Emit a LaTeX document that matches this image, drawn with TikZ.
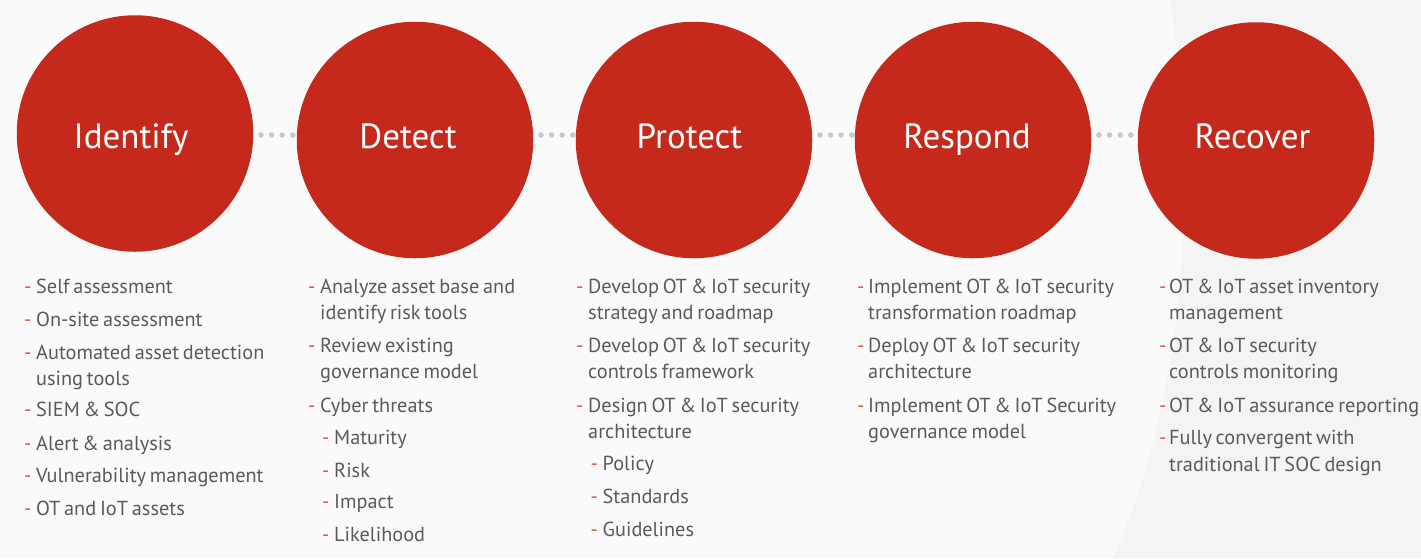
\documentclass[tikz,border=0pt]{standalone}
\usepackage{fontspec}
\setmainfont{PT Sans}[WordSpace=0.7]
\definecolor{bgl}{HTML}{FAFAFA}
\definecolor{bgr}{HTML}{F4F4F4}
\definecolor{circred}{HTML}{C4291C}
\definecolor{dashred}{HTML}{DC5044}
\definecolor{txtgray}{HTML}{5A5A5A}
\definecolor{dotgray}{HTML}{C8C8C8}
\newcommand\bul[2][12pt]{\parbox[t]{330pt}{\hangindent=#1\hangafter=1\makebox[#1][l]{\textcolor{dashred}{-}}#2}}
\tikzset{
  phase/.style={circle, fill=circred, minimum size=236.5pt, inner sep=0pt},
  ptitle/.style={anchor=base, text=white, font=\fontsize{35}{40}\selectfont, inner sep=0pt},
  item/.style={anchor=base west, inner sep=0pt, text=txtgray, font=\fontsize{20.3}{26.5}\selectfont},
  dotline/.style={draw=dotgray, line width=5.5pt, line cap=round, dash pattern=on 0pt off 10.6pt, shorten <=7.5pt, shorten >=2pt}
}
\begin{document}
\begin{tikzpicture}[x=1pt,y=-1pt]
\useasboundingbox (0,0) rectangle (1421,558);
\fill[bgl] (0,0) rectangle (1421,558);
\fill[bgr] (1170,0) .. controls (1200,180) and (1185,400) .. (1113,558) -- (1421,558) -- (1421,0) -- cycle;

% phases
\node[phase] (c1) at (135,133.5) {};
\node[phase] (c2) at (415,140) {};
\node[phase] (c3) at (694,140) {};
\node[phase] (c4) at (973,140) {};
\node[phase] (c5) at (1256,140.5) {};

\node[ptitle] (t1) at (131,148) {Identify};
\node[ptitle] (t2) at (408,148) {Detect};
\node[ptitle] (t3) at (689.5,148) {Protect};
\node[ptitle] (t4) at (967,148) {Respond};
\node[ptitle] (t5) at (1252.6,148) {Recover};

% dotted connectors
\coordinate (dy) at (0,135);
\draw[dotline] (c1.east |- dy) -- (c2.west |- dy);
\draw[dotline] (c2.east |- dy) -- (c3.west |- dy);
\draw[dotline] (c3.east |- dy) -- (c4.west |- dy);
\draw[dotline] (c4.east |- dy) -- (c5.west |- dy);

% Identify
\node[item] (i1) at (24,293) {\bul{Self assessment}};
\node[item] (i2) at (24,326.5) {\bul{On-site assessment}};
\node[item] (i3) at (24,359) {\bul{Automated asset detection\\using tools}};
\node[item] (i4) at (24,416.7) {\bul{SIEM \& SOC}};
\node[item] (i5) at (24,450) {\bul{Alert \& analysis}};
\node[item] (i6) at (24,482) {\bul{Vulnerability management}};
\node[item] (i7) at (24,515) {\bul{OT and IoT assets}};

% Detect
\node[item] (d1) at (308,293) {\bul{Analyze asset base and\\identify risk tools}};
\node[item] (d2) at (308,352) {\bul{Review existing\\governance model}};
\node[item] (d3) at (308,412) {\bul{Cyber threats}};
\node[item] (d4) at (322,444) {\bul{Maturity}};
\node[item] (d5) at (322,477) {\bul{Risk}};
\node[item] (d6) at (322,508.5) {\bul{Impact}};
\node[item] (d7) at (322,541.5) {\bul{Likelihood}};

% Protect
\node[item] (p1) at (576,293) {\bul{Develop OT \& IoT security\\strategy and roadmap}};
\node[item] (p2) at (576,352.3) {\bul{Develop OT \& IoT security\\controls framework}};
\node[item] (p3) at (576,412.3) {\bul{Design OT \& IoT security\\architecture}};
\node[item] (p4) at (590.5,470.7) {\bul{Policy}};
\node[item] (p5) at (590.5,503.3) {\bul{Standards}};
\node[item] (p6) at (590.5,536.7) {\bul{Guidelines}};

% Respond
\node[item] (r1) at (857,293) {\bul[11pt]{Implement OT \& IoT security\\transformation roadmap}};
\node[item] (r2) at (857,352.3) {\bul[11pt]{Deploy OT \& IoT security\\architecture}};
\node[item] (r3) at (857,412.3) {\bul[11pt]{Implement OT \& IoT Security\\governance model}};

% Recover
\node[item] (v1) at (1159,293) {\bul[10pt]{OT \& IoT asset inventory\\management}};
\node[item] (v2) at (1159,352.3) {\bul[10pt]{OT \& IoT security\\controls monitoring}};
\node[item] (v3) at (1159,412.3) {\bul[10pt]{OT \& IoT assurance reporting}};
\node[item] (v4) at (1159,444.5) {\bul[10pt]{Fully convergent with\\traditional IT SOC design}};
\end{tikzpicture}
\end{document}
